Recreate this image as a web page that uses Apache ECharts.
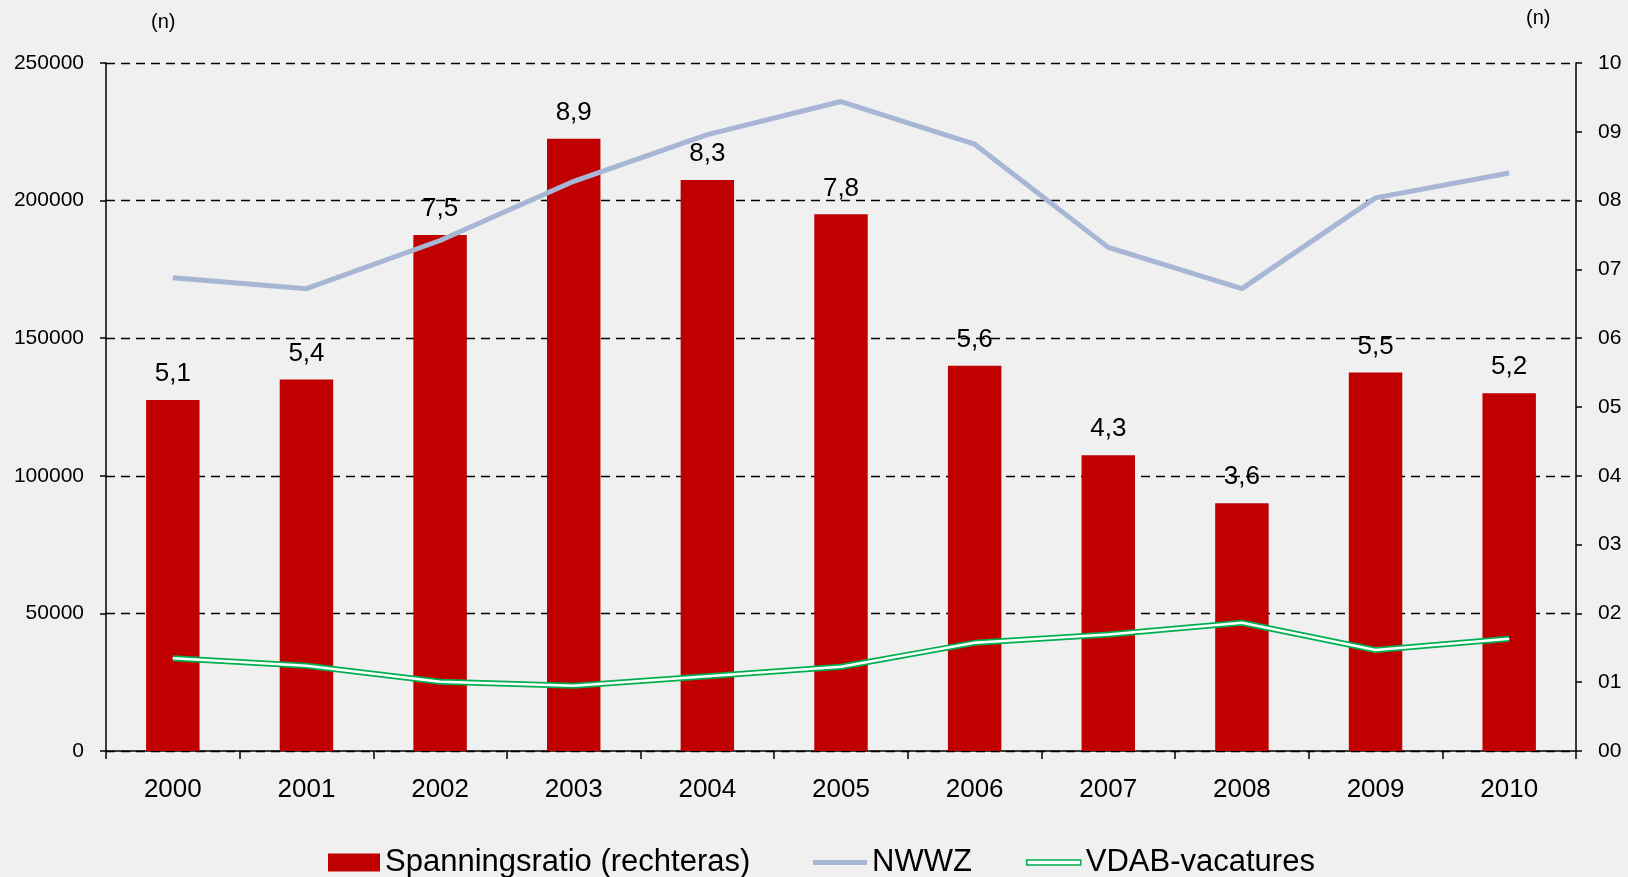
<!DOCTYPE html>
<html>
<head>
<meta charset="utf-8">
<script src="https://cdn.jsdelivr.net/npm/echarts@6/dist/echarts.min.js"></script>
<style>
html, body { margin: 0; padding: 0; background: #f0f0f0; }
#chart { width: 1628px; height: 877px; }
</style>
</head>
<body>
<div id="chart"></div>
<script>
// data
var years = ['2000', '2001', '2002', '2003', '2004', '2005', '2006', '2007', '2008', '2009', '2010'];
var ratio = [5.1, 5.4, 7.5, 8.9, 8.3, 7.8, 5.6, 4.3, 3.6, 5.5, 5.2]; // right axis
var nwwz = [172000, 168000, 185500, 207000, 224000, 236000, 220500, 183000, 168000, 201000, 210000];
var vdab = [33700, 31000, 25200, 23700, 27200, 30600, 39300, 42300, 46600, 36700, 40800];
var leftTicks = { min: 0, max: 250000, interval: 50000 };
var rightTicks = { min: 0, max: 10, interval: 1 };

var font = 'Liberation Sans, Arial, sans-serif';
var myChart = echarts.init(document.getElementById('chart'));

myChart.setOption({
  backgroundColor: '#f0f0f0',
  animation: false,
  textStyle: { fontFamily: font, color: '#000' },
  grid: { left: 106, right: 52, top: 63, bottom: 126 },
  legend: [
    {
      data: ['Spanningsratio (rechteras)'],
      left: 323, top: 842,
      itemWidth: 52, itemHeight: 18,
      icon: 'rect',
      textStyle: { fontSize: 31, color: '#000', fontFamily: font }
    },
    {
      data: ['NWWZ'],
      left: 808, top: 842,
      itemWidth: 54, itemHeight: 5,
      icon: 'rect',
      textStyle: { fontSize: 31, color: '#000', fontFamily: font }
    },
    {
      data: [{ name: 'VDAB-vacatures', icon: 'rect', itemStyle: { color: '#fff', borderColor: '#00b050', borderWidth: 1.5 } }],
      left: 1021, top: 842,
      itemWidth: 54, itemHeight: 5,
      textStyle: { fontSize: 31, color: '#000', fontFamily: font }
    }
  ],
  graphic: [
    { type: 'text', left: 151, top: 12, style: { text: '(n)', fontSize: 20, fontFamily: font, fill: '#000' } },
    { type: 'text', left: 1526, top: 8, style: { text: '(n)', fontSize: 20, fontFamily: font, fill: '#000' } }
  ],
  xAxis: {
    type: 'category',
    data: years,
    boundaryGap: true,
    axisLine: { lineStyle: { color: '#000', width: 1.5 } },
    axisTick: { show: true, length: 8, alignWithLabel: false, lineStyle: { color: '#000', width: 1.5 } },
    axisLabel: { fontSize: 26, color: '#000', margin: 26, fontFamily: font }
  },
  yAxis: [
    {
      type: 'value',
      min: leftTicks.min, max: leftTicks.max, interval: leftTicks.interval,
      axisLine: { show: true, lineStyle: { color: '#000', width: 1.5 } },
      axisTick: { show: true, length: 6, lineStyle: { color: '#000', width: 1.5 } },
      axisLabel: {
        fontSize: 21, color: '#000', margin: 22, fontFamily: font,
        formatter: function (v) { return '' + v; }
      },
      splitLine: { show: true, lineStyle: { color: '#000', type: [9, 6], width: 1.3 } }
    },
    {
      type: 'value',
      min: rightTicks.min, max: rightTicks.max, interval: rightTicks.interval,
      axisLine: { show: true, lineStyle: { color: '#000', width: 1.5 } },
      axisTick: { show: true, length: 6, lineStyle: { color: '#000', width: 1.5 } },
      axisLabel: {
        fontSize: 21, color: '#000', margin: 22, fontFamily: font,
        formatter: function (v) { return v < 10 ? '0' + v : '' + v; }
      },
      splitLine: { show: false }
    }
  ],
  series: [
    {
      name: 'Spanningsratio (rechteras)',
      type: 'bar',
      yAxisIndex: 1,
      data: ratio,
      barWidth: '40%',
      itemStyle: { color: '#c00000' },
      label: {
        show: true, position: 'top', distance: 13,
        fontSize: 26, color: '#000', fontFamily: font,
        formatter: function (p) { return String(p.value).replace('.', ','); }
      }
    },
    {
      name: 'NWWZ',
      type: 'line',
      data: nwwz,
      symbol: 'none',
      lineStyle: { color: '#a6b6d4', width: 5 },
      itemStyle: { color: '#a6b6d4' },
      z: 3
    },
    {
      name: 'VDAB-vacatures',
      type: 'line',
      data: vdab,
      symbol: 'none',
      lineStyle: { color: '#00b050', width: 6 },
      itemStyle: { color: '#00b050' },
      z: 4
    },
    {
      // white core of the double line
      name: 'VDAB-core',
      type: 'line',
      data: vdab,
      symbol: 'none',
      lineStyle: { color: '#ffffff', width: 2.5 },
      z: 5
    }
  ]
});
</script>
</body>
</html>
